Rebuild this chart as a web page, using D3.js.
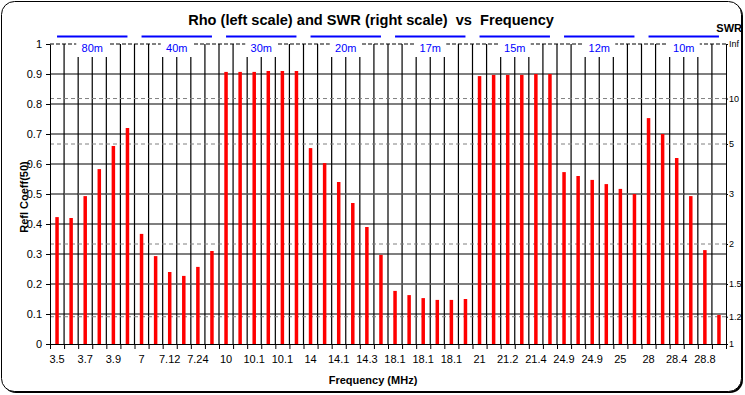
<!DOCTYPE html>
<html>
<head>
<meta charset="utf-8">
<script src="https://cdn.jsdelivr.net/npm/d3@7"></script>
<style>
  body { margin: 0; background: #fff; }
  svg { display: block; font-family: "Liberation Sans", Arial, sans-serif; }
</style>
</head>
<body>
<svg id="chart" width="745" height="395"></svg>
<script>
// frequency of each bar (only every second one is printed on the axis)
const freqLabels = [
  "3.5", "3.6", "3.7", "3.8", "3.9", "4",
  "7", "7.06", "7.12", "7.18", "7.24", "7.3",
  "10", "10.1", "10.1", "10.1", "10.1", "10.2",
  "14", "14.1", "14.1", "14.2", "14.3", "14.4",
  "18.1", "18.1", "18.1", "18.1", "18.1", "18.2",
  "21", "21.1", "21.2", "21.3", "21.4", "21.5",
  "24.9", "24.9", "24.9", "24.9", "25", "25",
  "28", "28.2", "28.4", "28.6", "28.8", "29",
];
// reflection coefficient
const rho = [
  0.423, 0.42, 0.493, 0.583, 0.66, 0.72,
  0.367, 0.293, 0.24, 0.227, 0.257, 0.31,
  0.907, 0.907, 0.907, 0.91, 0.91, 0.91,
  0.653, 0.603, 0.54, 0.47, 0.39, 0.297,
  0.177, 0.163, 0.153, 0.147, 0.147, 0.15,
  0.893, 0.897, 0.897, 0.897, 0.9, 0.9,
  0.573, 0.56, 0.547, 0.533, 0.517, 0.5,
  0.753, 0.7, 0.62, 0.493, 0.313, 0.097,
];
const bands = ["80m", "40m", "30m", "20m", "17m", "15m", "12m", "10m"];
const barsPerBand = 6;
const rhoTicks = [0, 0.1, 0.2, 0.3, 0.4, 0.5, 0.6, 0.7, 0.8, 0.9, 1];
const swrTicks = [Infinity, 10, 5, 3, 2, 1.5, 1.2, 1];

const width = 745, height = 395;
const margin = { left: 50, right: 19, top: 44, bottom: 51 };
const svg = d3.select("#chart");

// chart area with its shadow
svg.append("rect")
  .attr("x", 3).attr("y", 3).attr("width", 740).attr("height", 390)
  .attr("rx", 13).attr("fill", "#000");
svg.append("rect")
  .attr("x", 1.5).attr("y", 1.5).attr("width", 740).attr("height", 390)
  .attr("rx", 13).attr("fill", "#fff").attr("stroke", "#000");

const n = rho.length;
const x = d3.scaleLinear().domain([0, n]).range([margin.left, width - margin.right]);
const y = d3.scaleLinear().domain([0, 1]).range([height - margin.bottom, margin.top]);
const swrToRho = (s) => (s === Infinity ? 1 : (s - 1) / (s + 1));

const x0 = x(0), x1 = x(n), y0 = y(0), y1 = y(1);

// solid horizontal grid
svg.append("g")
  .selectAll("line")
  .data(rhoTicks.filter((d) => d > 0 && d < 1))
  .join("line")
  .attr("x1", x0).attr("x2", x1)
  .attr("y1", (d) => y(d)).attr("y2", (d) => y(d))
  .attr("stroke", "#000").attr("stroke-width", 1.2);

// top line (dashed)
svg.append("line")
  .attr("x1", x0).attr("x2", x1).attr("y1", y1).attr("y2", y1)
  .attr("stroke", "#000").attr("stroke-dasharray", "4,2");

// vertical grid at every category boundary
svg.append("g")
  .selectAll("line")
  .data(d3.range(1, n))
  .join("line")
  .attr("x1", (d) => x(d)).attr("x2", (d) => x(d))
  .attr("y1", y1).attr("y2", y0)
  .attr("stroke", "#000").attr("stroke-width", 1.2);

// SWR lines (dashed grey)
svg.append("g")
  .selectAll("line")
  .data(swrTicks.filter((s) => s !== Infinity && s !== 1))
  .join("line")
  .attr("x1", x0).attr("x2", x1)
  .attr("y1", (s) => y(swrToRho(s))).attr("y2", (s) => y(swrToRho(s)))
  .attr("stroke", "#808080").attr("stroke-dasharray", "4,3");

// bars
const barW = 3.5;
svg.append("g")
  .selectAll("rect")
  .data(rho)
  .join("rect")
  .attr("x", (d, i) => x(i + 0.5) - barW / 2)
  .attr("width", barW)
  .attr("y", (d) => y(d))
  .attr("height", (d) => y0 - y(d))
  .attr("fill", "#ff0000");

// left axis
svg.append("g")
  .attr("transform", `translate(${x0},0)`)
  .call(d3.axisLeft(y).tickValues(rhoTicks).tickSize(4).tickSizeOuter(0).tickPadding(4)
    .tickFormat((d) => String(d)))
  .call((g) => g.selectAll("text").attr("font-size", 11).attr("font-family", null))
  .call((g) => g.selectAll("path,line").attr("stroke", "#000"));

// right axis (SWR)
svg.append("g")
  .attr("transform", `translate(${x1},0)`)
  .call(d3.axisRight(y).tickValues(swrTicks.map(swrToRho)).tickSize(2).tickSizeOuter(0).tickPadding(1)
    .tickFormat((d, i) => (swrTicks[i] === Infinity ? "Inf" : String(swrTicks[i]))))
  .call((g) => g.selectAll("text").attr("font-size", 9).attr("font-family", null))
  .call((g) => g.selectAll("path,line").attr("stroke", "#000"));

// bottom axis: ticks at boundaries, labels at every second bar
svg.append("g")
  .attr("transform", `translate(0,${y0})`)
  .call(d3.axisBottom(x).tickValues(d3.range(n + 1)).tickSize(5).tickSizeOuter(0).tickFormat(""))
  .call((g) => g.selectAll("path,line").attr("stroke", "#000"));

svg.append("g")
  .selectAll("text")
  .data(freqLabels.map((f, i) => ({ f, i })).filter((d) => d.i % 2 === 0))
  .join("text")
  .attr("x", (d) => x(d.i + 0.5))
  .attr("y", y0 + 19)
  .attr("text-anchor", "middle")
  .attr("font-size", 11)
  .text((d) => d.f);

// band markers
const bandG = svg.append("g")
  .selectAll("g")
  .data(bands)
  .join("g");

bandG.append("line")
  .attr("x1", (d, i) => x(i * barsPerBand + 0.5))
  .attr("x2", (d, i) => x((i + 1) * barsPerBand - 0.5))
  .attr("y1", 36.5).attr("y2", 36.5)
  .attr("stroke", "#0000ff").attr("stroke-width", 2.2);

bandG.append("rect")
  .attr("x", (d, i) => x((i + 0.5) * barsPerBand) - 16)
  .attr("y", y1 - 1)
  .attr("width", 32).attr("height", 14)
  .attr("fill", "#fff");

bandG.append("text")
  .attr("x", (d, i) => x((i + 0.5) * barsPerBand))
  .attr("y", 52)
  .attr("text-anchor", "middle")
  .attr("font-size", 11)
  .attr("fill", "#0000ff")
  .text((d) => d);

// titles
svg.append("text")
  .attr("x", 371).attr("y", 25)
  .attr("text-anchor", "middle")
  .attr("font-size", 14.6).attr("font-weight", "bold")
  .attr("xml:space", "preserve")
  .text("Rho (left scale) and SWR (right scale)  vs  Frequency");

svg.append("text")
  .attr("x", 742).attr("y", 32)
  .attr("text-anchor", "end")
  .attr("font-size", 11).attr("font-weight", "bold")
  .text("SWR");

svg.append("text")
  .attr("x", 373).attr("y", 384)
  .attr("text-anchor", "middle")
  .attr("font-size", 11).attr("font-weight", "bold")
  .text("Frequency (MHz)");

svg.append("text")
  .attr("transform", "translate(28,197) rotate(-90)")
  .attr("text-anchor", "middle")
  .attr("font-size", 11).attr("font-weight", "bold")
  .text("Refl Coeff(50)");
</script>
</body>
</html>
